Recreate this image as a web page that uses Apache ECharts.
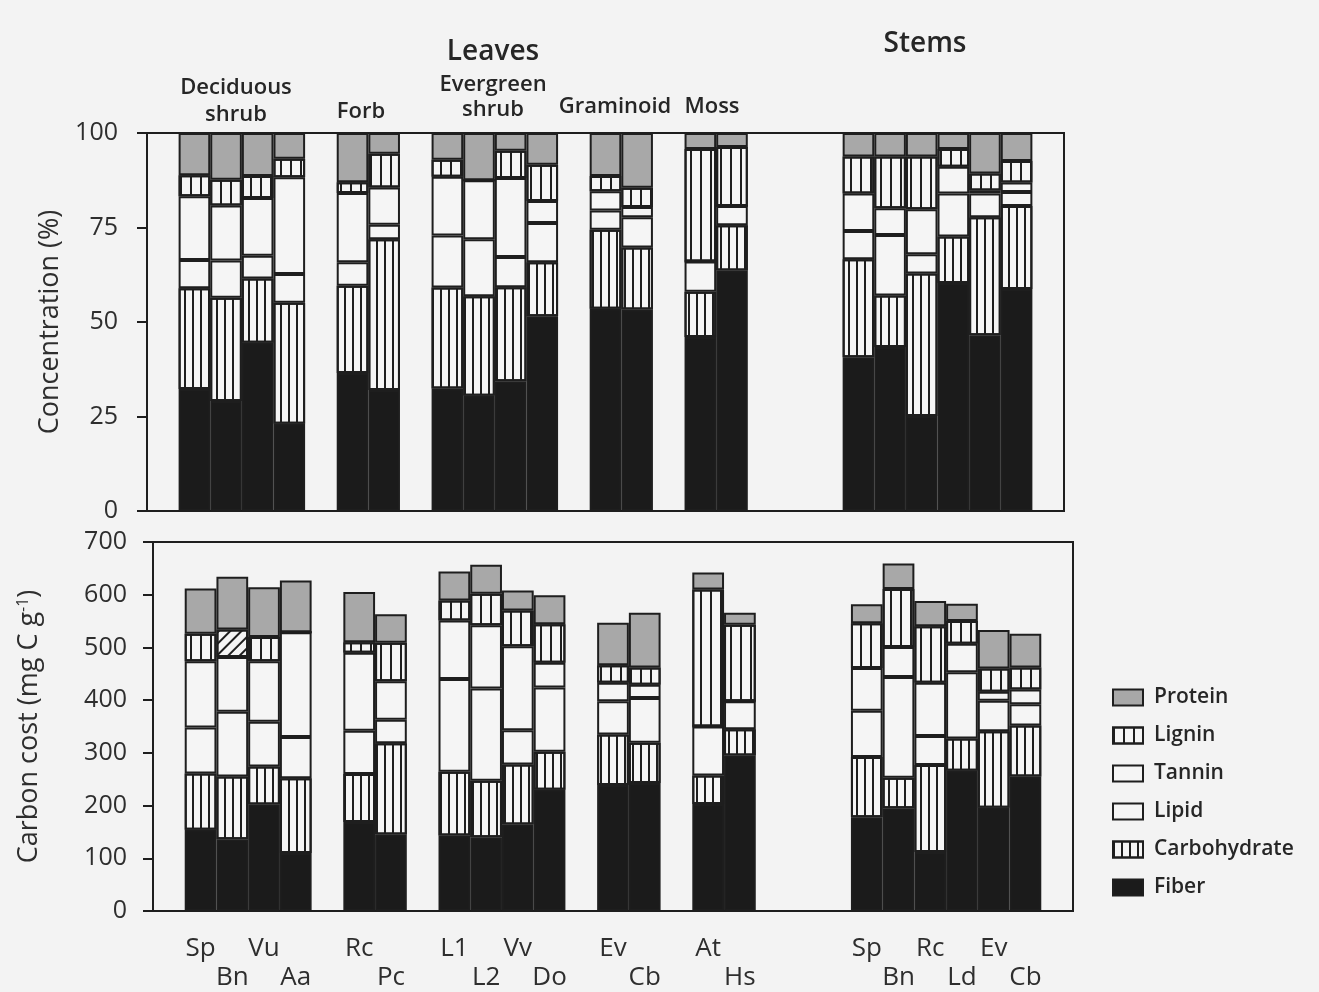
<!DOCTYPE html>
<html>
<head>
<meta charset="utf-8">
<title>Concentration and carbon cost of leaves and stems</title>
<script src="https://cdn.jsdelivr.net/npm/echarts/dist/echarts.min.js"></script>
<style>
  html, body { margin: 0; padding: 0; background: #f3f3f3; }
  #chart { width: 1319px; height: 992px; }
</style>
</head>
<body>
<div id="chart"></div>
<script>
// slots on the x axis, '' = empty spacer column
var slots = ['', 'Sp', 'Bn', 'Vu', 'Aa', '', 'Rc', 'Pc', '', 'L1', 'L2', 'Vv', 'Do', '', 'Ev', 'Cb', '', 'At', 'Hs', '', '', '', 'Sp', 'Bn', 'Rc', 'Ld', 'Ev', 'Cb', ''];
// 0 = upper row of tick labels, 1 = lower row
var labelRow = [0, 0, 1, 0, 1, 0, 0, 1, 0, 0, 1, 0, 1, 0, 0, 1, 0, 0, 1, 0, 0, 0, 0, 1, 0, 1, 0, 1, 0];
var concTicks = [0, 25, 50, 75, 100];
var costTicks = [0, 100, 200, 300, 400, 500, 600, 700];

// concentration (%), top panel
var concFiber   = [null, 32.3, 29.1, 44.5, 23.1, null, 36.5, 32.0, null, 32.4, 30.5, 34.3, 51.5, null, 53.5, 53.3, null, 46.0, 63.6, null, null, null, 40.7, 43.4, 25.1, 60.3, 46.5, 58.7, null];
var concCarb    = [null, 26.6, 27.3, 17.0, 32.0, null, 23.1, 39.9, null, 26.7, 26.3, 24.9, 14.3, null, 20.9, 16.4, null, 12.0, 12.0, null, null, null, 25.9, 13.6, 37.7, 12.3, 31.2, 22.0, null];
var concLipid   = [null, 7.5, 9.9, 6.0, 7.6, null, 6.2, 3.8, null, 13.8, 15.1, 8.0, 10.4, null, 5.1, 8.0, null, 8.0, 5.1, null, null, null, 7.5, 16.0, 5.1, 11.4, 6.3, 3.7, null];
var concTannin  = [null, 16.9, 14.5, 15.3, 25.6, null, 18.3, 9.9, null, 15.5, 15.6, 20.9, 5.8, null, 5.1, 2.7, null, 0, 0, null, null, null, 9.9, 7.1, 11.9, 7.1, 0.8, 2.5, null];
var concLignin  = [null, 5.5, 6.8, 5.8, 4.9, null, 2.9, 8.9, null, 4.5, 0, 7.2, 9.6, null, 4.0, 5.1, null, 29.8, 15.6, null, null, null, 9.8, 13.7, 14.0, 4.7, 4.5, 5.7, null];
var concProtein = [null, 11.2, 12.4, 11.4, 6.8, null, 13.0, 5.5, null, 7.1, 12.5, 4.7, 8.4, null, 11.4, 14.5, null, 4.2, 3.7, null, null, null, 6.2, 6.2, 6.2, 4.2, 10.7, 7.4, null];

// carbon cost (mg C g-1), bottom panel
var costFiber   = [null, 154, 136, 202, 110, null, 169, 145, null, 143, 140, 164, 230, null, 239, 243, null, 203, 295, null, null, null, 178, 195, 112, 266, 196, 255, null];
var costCarb    = [null, 107, 119, 72, 142, null, 91, 173, null, 121, 107, 114, 72, null, 96, 76, null, 54, 50, null, null, null, 114, 58, 165, 61, 145, 97, null];
var costLipid   = [null, 87, 123, 85, 78, null, 82, 45, null, 176, 175, 65, 122, null, 63, 85, null, 93, 53, null, null, null, 88, 191, 55, 126, 58, 40, null];
var costTannin  = [null, 126, 104, 115, 199, null, 148, 73, null, 111, 120, 159, 47, null, 35, 25, null, 0, 0, null, null, null, 81, 57, 101, 54, 17, 28, null];
var costLignin  = [null, 52, 52, 46, 0, null, 20, 73, null, 38, 60, 68, 73, null, 33, 33, null, 260, 145, null, null, null, 85, 110, 107, 43, 44, 42, null];
var costProtein = [null, 86, 100, 94, 98, null, 95, 54, null, 55, 55, 38, 55, null, 81, 104, null, 32, 23, null, null, null, 36, 48, 48, 33, 73, 64, null];

var components = ['Fiber', 'Carbohydrate', 'Lipid', 'Tannin', 'Lignin', 'Protein'];

var ink = '#1e1e1e';
var paper = '#f5f5f5';
var carbHatch = { symbol: 'rect', symbolSize: 1, dashArrayX: [2, 6], dashArrayY: [1, 0], color: ink };
var ligHatch = { symbol: 'rect', symbolSize: 1, dashArrayX: [2, 8], dashArrayY: [1, 0], color: ink };
var diagHatch = { symbol: 'rect', symbolSize: 1, dashArrayX: [1, 0], dashArrayY: [2, 6], rotation: -Math.PI / 4, color: ink };

var styles = {
  Fiber: { color: '#1b1b1b' },
  Carbohydrate: { color: paper, decal: carbHatch },
  Lipid: { color: paper },
  Tannin: { color: paper },
  Lignin: { color: paper, decal: ligHatch },
  Protein: { color: '#a8a8a8' }
};

var concData = { Fiber: concFiber, Carbohydrate: concCarb, Lipid: concLipid, Tannin: concTannin, Lignin: concLignin, Protein: concProtein };
var costData = { Fiber: costFiber, Carbohydrate: costCarb, Lipid: costLipid, Tannin: costTannin, Lignin: costLignin, Protein: costProtein };

function makeSeries(name, data, idx) {
  var st = styles[name];
  var itemStyle = { color: st.color, borderColor: ink, borderWidth: 2 };
  if (st.decal) itemStyle.decal = st.decal;
  return {
    name: name,
    type: 'bar',
    stack: 'g' + idx,
    xAxisIndex: idx,
    yAxisIndex: idx,
    barCategoryGap: 0,
    itemStyle: itemStyle,
    emphasis: { disabled: true },
    data: data
  };
}

var series = [];
components.forEach(function (c) { series.push(makeSeries(c, concData[c], 0)); });
components.forEach(function (c) {
  var s = makeSeries(c, costData[c], 1);
  if (c === 'Lignin') {
    // the Bn leaf lignin block is drawn with a diagonal hatch in the original
    s.data = costData[c].map(function (v, i) {
      return i === 2 ? { value: v, itemStyle: { decal: diagHatch } } : v;
    });
  }
  series.push(s);
});

var font = '"Open Sans", "Noto Sans", sans-serif';
var head = function (txt, x, y, size, lh) {
  return {
    type: 'text', x: x, y: y,
    style: { text: txt, fill: '#262626', font: '600 ' + size + 'px ' + font, textAlign: 'center', textVerticalAlign: 'middle', lineHeight: lh || size }
  };
};

var chart = echarts.init(document.getElementById('chart'));
chart.setOption({
  backgroundColor: '#f3f3f3',
  animation: false,
  textStyle: { fontFamily: font },
  grid: [
    { left: 147, top: 133, width: 917, height: 378, show: true, borderColor: ink, borderWidth: 2, backgroundColor: 'transparent' },
    { left: 153, top: 542, width: 920, height: 369, show: true, borderColor: ink, borderWidth: 2, backgroundColor: 'transparent' }
  ],
  xAxis: [
    { type: 'category', gridIndex: 0, data: slots, axisLine: { lineStyle: { color: ink, width: 2 } }, axisTick: { show: false }, axisLabel: { show: false } },
    {
      type: 'category', gridIndex: 1, data: slots,
      axisLine: { lineStyle: { color: ink, width: 2 } }, axisTick: { show: false },
      axisLabel: {
        interval: 0, fontSize: 26, color: '#2e2e2e', margin: 23, lineHeight: 29,
        formatter: function (v, i) { return labelRow[i] ? '\n' + v : v; }
      }
    }
  ],
  yAxis: [
    {
      type: 'value', gridIndex: 0, min: concTicks[0], max: concTicks[concTicks.length - 1], interval: 25,
      name: 'Concentration (%)', nameLocation: 'middle', nameGap: 78,
      nameTextStyle: { fontSize: 27, color: '#2e2e2e' },
      axisLine: { show: true, lineStyle: { color: ink, width: 2 } },
      axisTick: { show: true, length: 10, lineStyle: { color: ink, width: 2 } },
      axisLabel: { fontSize: 25, color: '#2e2e2e', margin: 29 },
      splitLine: { show: false }
    },
    {
      type: 'value', gridIndex: 1, min: costTicks[0], max: costTicks[costTicks.length - 1], interval: 100,
      name: 'Carbon cost (mg C g{sup|-1})', nameLocation: 'middle', nameGap: 110,
      nameTextStyle: { fontSize: 27, color: '#2e2e2e', rich: { sup: { fontSize: 16, verticalAlign: 'top', padding: [0, 0, 12, 0], color: '#2e2e2e' } } },
      axisLine: { show: true, lineStyle: { color: ink, width: 2 } },
      axisTick: { show: true, length: 10, lineStyle: { color: ink, width: 2 } },
      axisLabel: { fontSize: 25, color: '#2e2e2e', margin: 26 },
      splitLine: { show: false }
    }
  ],
  legend: {
    orient: 'vertical', left: 1112, top: 687, padding: 0,
    data: components.slice().reverse(),
    itemWidth: 30, itemHeight: 16, itemGap: 17,
    icon: 'rect',
    selectedMode: false,
    textStyle: { fontSize: 21, fontWeight: 600, color: '#262626', padding: [0, 0, 0, 6] }
  },
  graphic: [
    head('Leaves', 493, 52, 28),
    head('Stems', 925, 44, 28),
    head('Deciduous\nshrub', 236, 101, 22, 27),
    head('Forb', 361, 112, 22),
    head('Evergreen\nshrub', 493, 97, 22, 25),
    head('Graminoid', 615, 107, 22),
    head('Moss', 712, 107, 22)
  ],
  series: series
});
</script>
</body>
</html>
